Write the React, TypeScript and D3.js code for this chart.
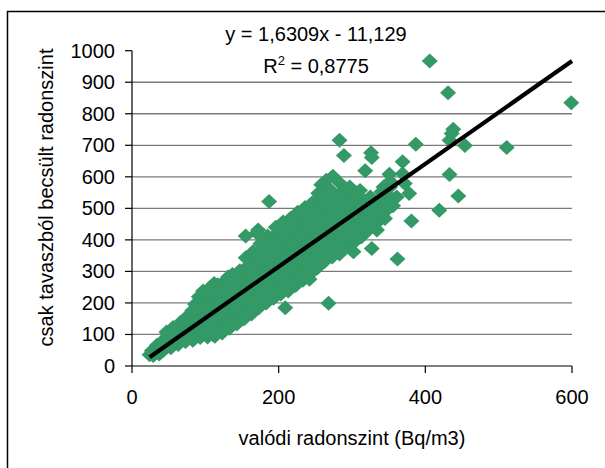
import React from "react";
import * as d3 from "d3";

// valódi radonszint (x), csak tavaszból becsült radonszint (y)
const denseCloud: [number, number][] = [
  [24, 36], [27, 48], [29, 33],
  [32, 42], [34, 66], [37, 38], [36, 55],
  [43, 50], [45, 85], [47, 108], [46, 65],
  [53, 58], [55, 95], [56, 122], [57, 75],
  [63, 68], [64, 105], [66, 138], [67, 88], [65, 120],
  [73, 78], [74, 115], [76, 155], [77, 95], [75, 135],
  [83, 82], [84, 120], [85, 160], [86, 196], [87, 100], [85, 140],
  [93, 90], [94, 130], [95, 170], [96, 205], [97, 238], [95, 150],
  [103, 92], [104, 130], [105, 170], [106, 210], [107, 250], [105, 110], [104, 190],
  [113, 94], [114, 135], [115, 175], [116, 215], [117, 258], [115, 155], [116, 195],
  [123, 105], [124, 145], [125, 185], [126, 225], [127, 270], [125, 165], [124, 245],
  [133, 120], [134, 160], [135, 200], [136, 240], [137, 290], [135, 180], [134, 265],
  [143, 133], [144, 175], [145, 215], [146, 255], [147, 302], [145, 195], [144, 280],
  [153, 150], [154, 190], [155, 230], [156, 270], [157, 315], [155, 343], [155, 210], [156, 290],
  [163, 165], [164, 205], [165, 245], [166, 285], [167, 325], [165, 362], [164, 225],
  [173, 185], [174, 225], [175, 265], [176, 305], [177, 345], [175, 388], [176, 245],
  [183, 200], [184, 240], [185, 280], [186, 320], [187, 360], [185, 412], [184, 260], [186, 300],
  [193, 215], [194, 255], [195, 295], [196, 335], [197, 375], [195, 415], [196, 440], [194, 275],
  [203, 228], [204, 268], [205, 308], [206, 348], [207, 390], [205, 430], [206, 457],
  [213, 238], [214, 278], [215, 318], [216, 358], [217, 400], [215, 440], [216, 468],
  [223, 255], [224, 295], [225, 335], [226, 375], [227, 415], [225, 455], [226, 488],
  [233, 272], [234, 312], [235, 352], [236, 392], [237, 432], [235, 472], [236, 503],
  [243, 292], [244, 330], [245, 370], [246, 410], [247, 450], [245, 490], [246, 518],
  [253, 312], [254, 350], [255, 390], [256, 430], [257, 470], [255, 510], [254, 548], [258, 575],
  [263, 332], [264, 370], [265, 410], [266, 450], [267, 490], [265, 530], [266, 560], [265, 589],
  [273, 346], [274, 385], [275, 425], [276, 465], [277, 505], [275, 545],
  [283, 355], [284, 395], [285, 435], [286, 475], [287, 515], [285, 550], [284, 579],
  [293, 378], [294, 415], [295, 455], [296, 495], [297, 540], [297, 568],
  [304, 395], [305, 435], [306, 475], [307, 515], [311, 557],
  [313, 410], [314, 450], [315, 490], [316, 525],
  [323, 432], [324, 470], [325, 510], [325, 536],
  [333, 452], [335, 483], [336, 505], [340, 552],
  [343, 568], [345, 468], [346, 495], [352, 586], [356, 508], [361, 536],
];

const cloudFill: [number, number][] = [
  [30, 45], [40, 58], [42, 80], [50, 70], [51, 100], [60, 80], [61, 115],
  [70, 90], [71, 128], [72, 150], [80, 92], [81, 130], [82, 175],
  [90, 98], [91, 140], [92, 185], [91, 220], [100, 100], [101, 145], [100, 180], [102, 225],
  [110, 100], [111, 145], [110, 185], [112, 230], [112, 262],
  [120, 115], [121, 158], [120, 200], [122, 240], [130, 128], [131, 172], [130, 215], [132, 255], [131, 282],
  [140, 140], [141, 188], [140, 228], [142, 270], [150, 160], [151, 205], [150, 248], [152, 300],
  [160, 175], [161, 218], [160, 260], [162, 305], [170, 195], [171, 238], [170, 280], [172, 325], [171, 360],
  [180, 210], [181, 252], [180, 292], [182, 338], [181, 380],
  [190, 225], [191, 268], [190, 312], [192, 355], [191, 395],
  [200, 240], [201, 285], [200, 325], [202, 370], [201, 410], [202, 445],
  [210, 255], [211, 298], [210, 338], [212, 380], [211, 420], [212, 455],
  [220, 270], [221, 312], [220, 355], [222, 395], [221, 435], [222, 470],
  [230, 285], [231, 328], [230, 370], [232, 410], [231, 450], [232, 488],
  [240, 305], [241, 345], [240, 388], [242, 428], [241, 468], [242, 505],
  [250, 325], [251, 365], [250, 408], [252, 448], [251, 490], [252, 525],
  [260, 345], [261, 388], [260, 428], [262, 468], [261, 510], [262, 545],
  [270, 360], [271, 405], [270, 445], [272, 485], [271, 525], [270, 560],
  [280, 375], [281, 415], [280, 455], [282, 495], [281, 535],
  [290, 395], [291, 435], [290, 475], [292, 515], [300, 410], [301, 455], [300, 495], [302, 530],
  [310, 430], [311, 470], [310, 505], [320, 450], [321, 490], [320, 520],
  [330, 470], [331, 500], [340, 480], [341, 520], [350, 500], [350, 540],
];

const outliers: [number, number][] = [
  [155, 412], [172, 431], [170, 422], [187, 522], [209, 185], [242, 275],
  [268, 199], [274, 602], [283, 716], [289, 668], [302, 362], [311, 410],
  [318, 619], [326, 676], [327, 661], [327, 373], [334, 431], [335, 483],
  [351, 608], [352, 568], [362, 339], [369, 648], [369, 610], [372, 579],
  [378, 547], [381, 460], [387, 703], [406, 967], [419, 494], [431, 867],
  [433, 716], [433, 607], [436, 737], [438, 751], [445, 539], [454, 699],
  [511, 693], [599, 835],
];

const xTicks = [0, 200, 400, 600];
const yTicks = [0, 100, 200, 300, 400, 500, 600, 700, 800, 900, 1000];
const gridValues = [100, 200, 300, 400, 500, 600, 700, 800, 900];
const slope = 1.6309;
const intercept = -11.129;
const trendRange = [24, 600];

export default function App() {
  const x = d3.scaleLinear().domain([0, 600]).range([132, 572]);
  const y = d3.scaleLinear().domain([0, 1000]).range([366, 50.7]);
  const all = [...denseCloud, ...cloudFill, ...outliers];
  const trend = d3
    .line<number>()
    .x((v) => x(v))
    .y((v) => y(slope * v + intercept))(trendRange);
  const diamond = "M0,-7.5L8,0L0,7.5L-8,0Z";
  const font = "'Liberation Sans', Arial, sans-serif";
  return (
    <svg
      width={605}
      height={468}
      style={{ position: "absolute", left: 0, top: 0, background: "#fff" }}
      fontFamily={font}
    >
      <rect x={0} y={0} width={605} height={468} fill="#fff" />
      <rect x={7.5} y={11.5} width={640} height={500} fill="none" stroke="#000" strokeWidth={1.5} />
      {gridValues.map((v) => (
        <line key={v} x1={x(0)} x2={x(600)} y1={y(v)} y2={y(v)} stroke="#7a7a7a" strokeWidth={1.3} />
      ))}
      {all.map((d, i) => (
        <path key={i} d={diamond} transform={`translate(${x(d[0])},${y(d[1])})`} fill="#339966" />
      ))}
      <path d={trend || ""} stroke="#000" strokeWidth={4.2} fill="none" />
      <line x1={x(0)} x2={x(0)} y1={y(0)} y2={y(1000)} stroke="#000" strokeWidth={1.2} />
      {yTicks.map((v) => (
        <g key={v}>
          <line x1={x(0) - 7} x2={x(0)} y1={y(v)} y2={y(v)} stroke="#000" strokeWidth={1.2} />
          <text x={115} y={y(v)} dy="0.35em" textAnchor="end" fontSize={20} fill="#000">
            {v}
          </text>
        </g>
      ))}
      <line x1={x(0)} x2={x(600)} y1={y(0)} y2={y(0)} stroke="#000" strokeWidth={1.2} />
      {xTicks.map((v) => (
        <g key={v}>
          <line x1={x(v)} x2={x(v)} y1={y(0)} y2={y(0) + 7} stroke="#000" strokeWidth={1.2} />
          <text x={x(v)} y={404} textAnchor="middle" fontSize={20} fill="#000">
            {v}
          </text>
        </g>
      ))}
      <text x={352} y={445} textAnchor="middle" fontSize={20} fill="#000">
        valódi radonszint (Bq/m3)
      </text>
      <text
        transform="translate(53,197.5) rotate(-90)"
        textAnchor="middle"
        fontSize={20}
        fill="#000"
      >
        csak tavaszból becsült radonszint
      </text>
      <text x={316} y={41} textAnchor="middle" fontSize={20} fill="#000">
        y = 1,6309x - 11,129
      </text>
      <text x={316} y={73} textAnchor="middle" fontSize={20} fill="#000">
        R<tspan fontSize={13} dy={-8}>2</tspan>
        <tspan dy={8}> = 0,8775</tspan>
      </text>
    </svg>
  );
}
